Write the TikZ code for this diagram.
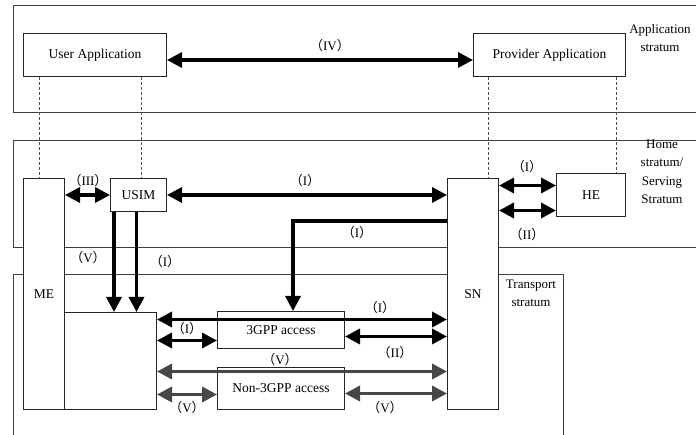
\documentclass[tikz,border=0pt]{standalone}
\usepackage{fontspec}
\setmainfont{Liberation Serif}
\newfontfamily\cjk{Noto Sans CJK SC}
\usetikzlibrary{arrows.meta,positioning,calc}
\newcommand{\iface}[1]{{\cjk （}#1{\cjk ）}}
\tikzset{
  blk/.style={draw=black!85, line width=1pt, fill=white, inner sep=0pt, anchor=north west},
  strat/.style={draw=black!75, line width=1pt},
  dsh/.style={draw=black!70, line width=0.7pt, dash pattern=on 3pt off 2pt},
  lnk/.style={line width=3.4pt, black, <->},
  glnk/.style={line width=3.4pt, black!72, <->},
  lab/.style={inner sep=0pt, font=\fontsize{13}{15}\selectfont}
}
\begin{document}
\begin{tikzpicture}[x=1pt, y=-1pt, >={Triangle[length=15pt,width=15pt]}, font=\fontsize{13.5}{16}\selectfont, line join=miter]
\useasboundingbox (0,0) rectangle (696,435);
% strata
\draw[strat] (696,6)--(13,6)--(13,113)--(696,113);
\draw[strat] (696,141)--(13,141)--(13,248)--(696,248);
\draw[strat] (13,435)--(13,275)--(563,275)--(563,435);
\node[lab, align=center, font=\fontsize{13}{18}\selectfont] (appstr) at (660,38) {Application\\stratum};
\node[lab, align=center, font=\fontsize{13}{18.5}\selectfont] (homestr) at (662,172) {Home\\stratum/\\Serving\\Stratum};
\node[lab, align=center, font=\fontsize{13}{18}\selectfont] (transstr) at (531,293) {Transport\\stratum};
% entities
\node[blk, minimum width=143pt, minimum height=43pt] (userapp) at (23,33) {User Application};
\node[blk, minimum width=152pt, minimum height=43pt] (provapp) at (473,33) {Provider Application};
\node[blk, minimum width=41pt, minimum height=231pt] (me) at (23,178) {ME};
\node[blk, minimum width=56pt, minimum height=33pt] (usim) at (110,178) {USIM};
\node[blk, minimum width=51pt, minimum height=231pt] (sn) at (447,178) {SN};
\node[blk, minimum width=69pt, minimum height=43pt] (he) at (556,173) {HE};
\node[blk, minimum width=92pt, minimum height=97pt] (mt) at (64,312) {};
\node[blk, minimum width=127pt, minimum height=37pt] (gpp) at (217,311) {3GPP access};
\node[blk, minimum width=127pt, minimum height=42pt] (ngpp) at (217,367) {Non-3GPP access};
% dashed ties
\draw[dsh] ([xshift=16pt]userapp.south west) -- ([xshift=16pt]userapp.south west |- me.north);
\draw[dsh] ([xshift=-26pt]userapp.south east) -- ([xshift=-26pt]userapp.south east |- usim.north);
\draw[dsh] ([xshift=15pt]provapp.south west) -- ([xshift=15pt]provapp.south west |- sn.north);
\draw[dsh] ([xshift=-10pt]provapp.south east) -- ([xshift=-10pt]provapp.south east |- he.north);
% links
\draw[lnk] ([yshift=-5pt]userapp.east) -- ([yshift=-5pt]provapp.west);
\draw[lnk] (usim.west -| me.east) -- (usim.west);
\draw[lnk] (usim.east) -- (usim.east -| sn.west);
\draw[lnk] ([yshift=9.5pt]he.west -| sn.east) -- ([yshift=9.5pt]he.west);
\draw[lnk] ([yshift=-15.5pt]he.west -| sn.east) -- ([yshift=-15.5pt]he.west);
\draw[lnk, -] ([xshift=4pt]usim.south west) edge[->] ([xshift=4pt]usim.south west |- mt.north)
  ([xshift=-2pt]usim.south) edge[->] ([xshift=-2pt]usim.south |- mt.north);
\coordinate (bend) at (293,221);
\draw[lnk, ->] (bend -| sn.west) -- (bend) -- (bend |- gpp.north);
\draw[lnk] ([yshift=10.5pt]gpp.west -| mt.east) -- ([yshift=10.5pt]gpp.east -| sn.west);
\draw[lnk] ([yshift=-10.5pt]gpp.west -| mt.east) -- ([yshift=-10.5pt]gpp.west);
\draw[lnk] ([yshift=-6.5pt]gpp.east) -- ([yshift=-6.5pt]gpp.east -| sn.west);
\draw[glnk] ([yshift=17pt]ngpp.west -| mt.east) -- ([yshift=17pt]ngpp.east -| sn.west);
\draw[glnk] ([yshift=-6pt]ngpp.west -| mt.east) -- ([yshift=-6pt]ngpp.west);
\draw[glnk] ([yshift=-5pt]ngpp.east) -- ([yshift=-5pt]ngpp.east -| sn.west);
% interface labels
\node[lab] (l4) at (330,46) {\iface{IV}};
\node[lab] (l3) at (88,181) {\iface{III}};
\node[lab] (l1a) at (305,181) {\iface{I}};
\node[lab] (l1b) at (527,167) {\iface{I}};
\node[lab] (l2a) at (527,235) {\iface{II}};
\node[lab] (l1c) at (357,233) {\iface{I}};
\node[lab] (l5a) at (88,258) {\iface{V}};
\node[lab] (l1d) at (165,262) {\iface{I}};
\node[lab] (l1e) at (380,308) {\iface{I}};
\node[lab] (l1f) at (187,329) {\iface{I}};
\node[lab] (l2b) at (395,353) {\iface{II}};
\node[lab] (l5b) at (280,360) {\iface{V}};
\node[lab] (l5c) at (187,408) {\iface{V}};
\node[lab] (l5d) at (385,408) {\iface{V}};
\end{tikzpicture}
\end{document}
